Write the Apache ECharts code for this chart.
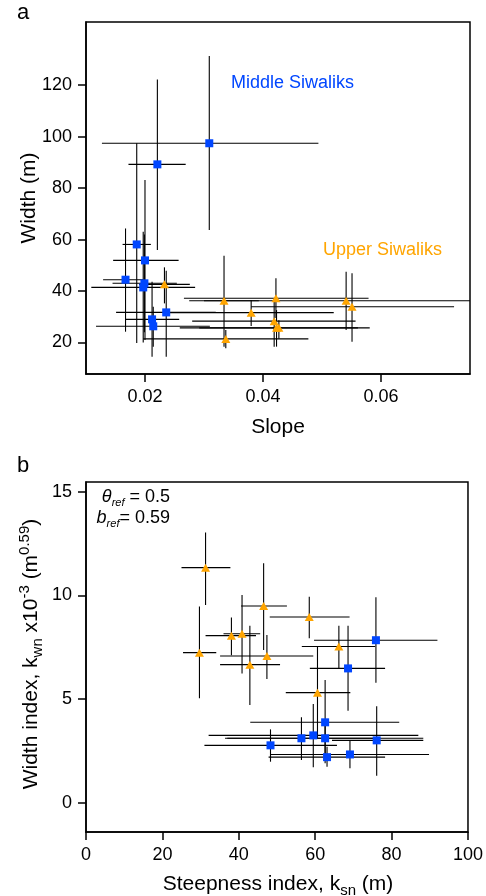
<!DOCTYPE html>
<html><head><meta charset="utf-8">
<script src="https://cdn.jsdelivr.net/npm/echarts@6/dist/echarts.min.js"></script>
<style>html,body{margin:0;padding:0;background:#fff}#c{width:486px;height:896px}</style>
</head><body><div id="c"></div>
<script>
// ---------- Panel a: Slope vs Width ----------
const slopeTicks = [0.02, 0.04, 0.06];
const widthTicks = [20, 40, 60, 80, 100, 120];
// Middle Siwaliks
const slopeMid   = [0.0309, 0.0221, 0.0186, 0.0200, 0.0167, 0.0199, 0.0197, 0.0236, 0.0212, 0.0214];
const widthMid   = [97.4, 89.2, 58.1, 51.9, 44.4, 43.0, 41.4, 31.7, 29.0, 26.3];
const slopeMidLo = [0.0127, 0.0172, 0.0162, 0.0146, 0.0129, 0.0145, 0.0109, 0.0151, 0.0167, 0.0117];
const slopeMidHi = [0.0494, 0.0269, 0.0210, 0.0257, 0.0197, 0.0254, 0.0285, 0.0320, 0.0258, 0.0310];
const widthMidLo = [63.7, 55.9, 19.8, 21.0, 24.2, 24.0, 20.0, 14.5, 14.5, 18.4];
const widthMidHi = [131.3, 122.2, 97.4, 83.1, 64.3, 62.0, 63.0, 47.9, 43.6, 33.9];
// Upper Siwaliks
const slopeUp   = [0.0233, 0.0334, 0.0422, 0.0541, 0.0551, 0.0380, 0.0419, 0.0423, 0.0427, 0.0337];
const widthUp   = [42.6, 36.2, 37.2, 36.2, 33.9, 31.6, 28.3, 25.7, 25.7, 21.4];
const slopeUpLo = [0.0190, 0.0275, 0.0266, 0.0300, 0.0380, 0.0239, 0.0280, 0.0259, 0.0292, 0.0197];
const slopeUpHi = [0.0276, 0.0393, 0.0579, 0.0782, 0.0724, 0.0520, 0.0557, 0.0581, 0.0561, 0.0477];
const widthUpLo = [35.2, 18.4, 29.5, 24.9, 20.3, 26.4, 18.4, 18.4, 21.5, 17.8];
const widthUpHi = [49.2, 53.7, 45.0, 47.5, 46.9, 36.5, 36.5, 32.6, 28.6, 24.9];

// ---------- Panel b: ksn vs kwn ----------
const ksnTicks = [0, 20, 40, 60, 80, 100];
const kwnTicks = [0, 5, 10, 15];
// Middle Siwaliks
const ksnMid   = [75.9, 68.6, 62.6, 56.4, 59.5, 62.6, 63.1, 76.1, 69.1, 48.3];
const kwnMid   = [7.84, 6.48, 3.88, 3.11, 3.25, 3.11, 2.20, 3.01, 2.33, 2.77];
const ksnMidLo = [59.7, 58.6, 43.0, 36.4, 32.1, 37.0, 47.8, 64.4, 48.4, 31.0];
const ksnMidHi = [92.0, 78.3, 82.0, 76.3, 87.0, 88.3, 78.3, 88.3, 89.8, 65.7];
const kwnMidLo = [5.79, 4.44, 1.90, 2.06, 1.71, 2.20, 1.74, 1.30, 1.66, 1.98];
const kwnMidHi = [9.91, 8.54, 5.92, 4.12, 4.76, 4.00, 2.70, 4.66, 3.03, 3.54];
// Upper Siwaliks
const ksnUp   = [31.3, 46.5, 58.45, 29.7, 38.07, 40.85, 42.9, 47.36, 66.2, 60.6];
const kwnUp   = [11.34, 9.49, 8.96, 7.24, 8.06, 8.15, 6.66, 7.08, 7.54, 5.31];
const ksnUpLo = [25.0, 40.6, 48.1, 25.4, 31.3, 36.0, 35.1, 35.1, 56.5, 52.3];
const ksnUpHi = [37.8, 52.6, 69.0, 34.1, 44.5, 45.6, 50.8, 59.5, 75.7, 69.2];
const kwnUpLo = [9.54, 7.37, 7.93, 5.04, 7.12, 6.24, 4.71, 5.97, 6.48, 3.10];
const kwnUpHi = [13.04, 11.55, 9.94, 9.46, 8.94, 10.02, 8.54, 8.09, 8.54, 7.53];

const FONT = '"Liberation Sans", Arial, Helvetica, sans-serif';
const BLUE = '#0046FF';
const ORANGE = '#FFA500';

function errSeries(gi, xs, ys, xlo, xhi, ylo, yhi) {
  const data = xs.map((x, i) => [x, ys[i], xlo[i], xhi[i], ylo[i], yhi[i]]);
  return {
    type: 'custom', xAxisIndex: gi, yAxisIndex: gi, clip: true, silent: true, z: 2,
    encode: { x: 0, y: 1 },
    data,
    renderItem(params, api) {
      const x = api.value(0), y = api.value(1);
      const p0 = api.coord([api.value(2), y]), p1 = api.coord([api.value(3), y]);
      const q0 = api.coord([x, api.value(4)]), q1 = api.coord([x, api.value(5)]);
      const st = { stroke: '#000', lineWidth: 1.1 };
      return { type: 'group', children: [
        { type: 'line', shape: { x1: p0[0], y1: p0[1], x2: p1[0], y2: p1[1] }, style: st },
        { type: 'line', shape: { x1: q0[0], y1: q0[1], x2: q1[0], y2: q1[1] }, style: st }
      ]};
    }
  };
}
function markSeries(gi, xs, ys, sym, size, color) {
  return {
    type: 'scatter', xAxisIndex: gi, yAxisIndex: gi, symbol: sym, symbolSize: size, z: 5,
    itemStyle: { color, opacity: 1 }, silent: true,
    data: xs.map((x, i) => [x, ys[i]])
  };
}
function axisCommon(ticks, fmt) {
  return {
    axisLine: { show: true, onZero: false, lineStyle: { color: '#000', width: 1.5 } },
    axisTick: { show: true, customValues: ticks, length: 8, lineStyle: { color: '#000', width: 1.5 } },
    axisLabel: { customValues: ticks, formatter: fmt, color: '#000', fontSize: 18, fontFamily: FONT, margin: 14 },
    splitLine: { show: false }
  };
}

const chart = echarts.init(document.getElementById('c'), null, { renderer: 'canvas' });
const titleStyle = { fill: '#000', fontSize: 21, fontFamily: FONT };
const richBase = {
  n: { fontSize: 21, fontFamily: FONT, lineHeight: 28, verticalAlign: 'middle' },
  sb: { fontSize: 15, fontFamily: FONT, lineHeight: 28, verticalAlign: 'bottom' },
  sp: { fontSize: 15, fontFamily: FONT, lineHeight: 28, verticalAlign: 'top' }
};
const richInset = {
  n: { fontSize: 18, fontFamily: FONT, lineHeight: 22, verticalAlign: 'middle' },
  it: { fontSize: 18, fontFamily: FONT, fontStyle: 'italic', lineHeight: 22, verticalAlign: 'middle' },
  sb: { fontSize: 11, fontFamily: FONT, fontStyle: 'italic', lineHeight: 22, verticalAlign: 'bottom' }
};

chart.setOption({
  animation: false,
  backgroundColor: '#fff',
  grid: [
    { left: 86, top: 22, width: 384, height: 352, show: true, borderColor: '#000', borderWidth: 1.5, containLabel: false },
    { left: 86, top: 482, width: 384, height: 350, show: true, borderColor: '#000', borderWidth: 1.5, containLabel: false }
  ],
  xAxis: [
    Object.assign({ gridIndex: 0, type: 'value', min: 0.01, max: 0.0751 }, axisCommon(slopeTicks, v => v.toFixed(2))),
    Object.assign({ gridIndex: 1, type: 'value', min: 0, max: 100 }, axisCommon(ksnTicks, v => String(v)))
  ],
  yAxis: [
    Object.assign({ gridIndex: 0, type: 'value', min: 7.77, max: 144.5 }, axisCommon(widthTicks, v => String(v))),
    Object.assign({ gridIndex: 1, type: 'value', min: -1.41, max: 15.47 }, axisCommon(kwnTicks, v => String(v)))
  ],
  series: [
    errSeries(0, slopeMid, widthMid, slopeMidLo, slopeMidHi, widthMidLo, widthMidHi),
    errSeries(0, slopeUp, widthUp, slopeUpLo, slopeUpHi, widthUpLo, widthUpHi),
    markSeries(0, slopeUp, widthUp, 'triangle', [9, 8], ORANGE),
    markSeries(0, slopeMid, widthMid, 'rect', 8, BLUE),
    errSeries(1, ksnMid, kwnMid, ksnMidLo, ksnMidHi, kwnMidLo, kwnMidHi),
    errSeries(1, ksnUp, kwnUp, ksnUpLo, ksnUpHi, kwnUpLo, kwnUpHi),
    markSeries(1, ksnUp, kwnUp, 'triangle', [9, 8], ORANGE),
    markSeries(1, ksnMid, kwnMid, 'rect', 8, BLUE)
  ],
  graphic: [
    { type: 'text', x: 23, y: 13, style: { text: 'a', fill: '#000', fontSize: 22, fontFamily: FONT, align: 'center', verticalAlign: 'middle' } },
    { type: 'text', x: 23, y: 466, style: { text: 'b', fill: '#000', fontSize: 22, fontFamily: FONT, align: 'center', verticalAlign: 'middle' } },
    { type: 'text', x: 231, y: 83, style: { text: 'Middle Siwaliks', fill: BLUE, fontSize: 18, fontFamily: FONT, align: 'left', verticalAlign: 'middle' } },
    { type: 'text', x: 323, y: 250, style: { text: 'Upper Siwaliks', fill: ORANGE, fontSize: 18, fontFamily: FONT, align: 'left', verticalAlign: 'middle' } },
    { type: 'text', x: 278, y: 427, style: Object.assign({ text: 'Slope', align: 'center', verticalAlign: 'middle' }, titleStyle) },
    { type: 'text', x: 29, y: 198, rotation: Math.PI / 2, style: Object.assign({ text: 'Width (m)', align: 'center', verticalAlign: 'middle' }, titleStyle) },
    { type: 'text', x: 278, y: 884, style: { text: '{n|Steepness index, k}{sb|sn}{n| (m)}', rich: richBase, fill: '#000', fontSize: 21, fontFamily: FONT, align: 'center', verticalAlign: 'middle' } },
    { type: 'text', x: 31, y: 654, rotation: Math.PI / 2, style: { text: '{n|Width index, k}{sb|wn}{n| x10}{sp|-3}{n| (m}{sp|0.59}{n|)}', rich: richBase, fill: '#000', fontSize: 21, fontFamily: FONT, align: 'center', verticalAlign: 'middle' } },
    { type: 'text', x: 170, y: 497, style: { text: '{it|θ}{sb|ref}{n| = 0.5}', rich: richInset, fill: '#000', fontSize: 18, fontFamily: FONT, align: 'right', verticalAlign: 'middle' } },
    { type: 'text', x: 170, y: 518, style: { text: '{it|b}{sb|ref}{n|= 0.59}', rich: richInset, fill: '#000', fontSize: 18, fontFamily: FONT, align: 'right', verticalAlign: 'middle' } }
  ]
});
</script>
</body></html>
